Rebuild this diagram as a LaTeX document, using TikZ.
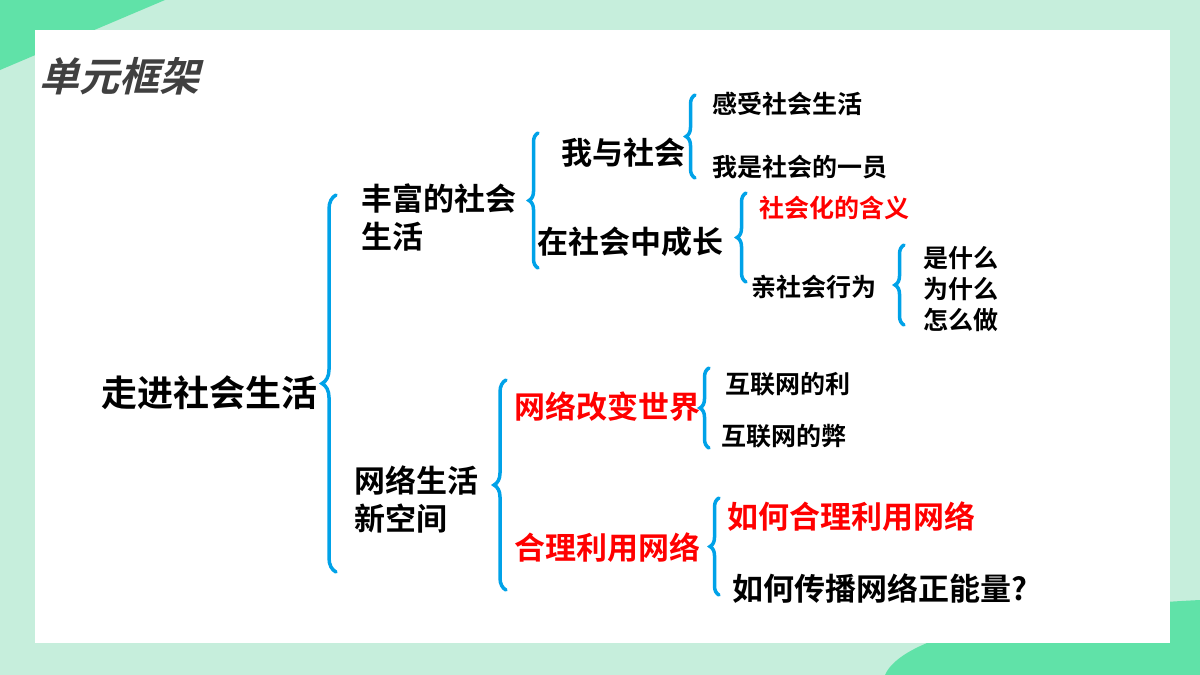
\documentclass[tikz,border=0pt]{standalone}
\usepackage{fontspec}
\newfontfamily\cjk{Noto Sans CJK SC}[BoldFont={* Bold}]
\usetikzlibrary{decorations.pathreplacing}
\definecolor{mint}{RGB}{198,238,220}
\definecolor{leaf}{RGB}{96,226,168}
\definecolor{bracecol}{RGB}{0,162,232}
\tikzset{
  lvlA/.style={anchor=west,align=left,inner sep=1pt,font=\cjk\bfseries\fontsize{36}{40}\selectfont},
  lvlB/.style={anchor=west,align=left,inner sep=1pt,font=\cjk\bfseries\fontsize{31}{38}\selectfont},
  lvlC/.style={anchor=west,align=left,inner sep=1pt,font=\cjk\bfseries\fontsize{25}{31}\selectfont},
  hot/.style={text=red},
  curly/.style={draw=bracecol,line width=3.5pt,line cap=round,decorate,decoration={brace,amplitude=9pt}}
}
\begin{document}
\begin{tikzpicture}[x=1pt,y=-1pt]
\useasboundingbox (0,0) rectangle (1200,675);
\fill[mint] (0,0) rectangle (1200,675);
\fill[leaf] (0,0) -- (165,0) -- (0,70) -- cycle;
\fill[leaf] (885,675) .. controls (900,640) and (1000,610) .. (1200,600) -- (1200,675) -- cycle;
\fill[white] (35,30) rectangle (1170,643);
\node[anchor=west,inner sep=1pt,font=\cjk\bfseries\fontsize{40}{44}\selectfont,text=black!75,xslant=0.25] (title) at (42,76) {单元框架};
% level one
\node[lvlA] (root) at (100,393) {走进社会生活};
\node[lvlB] (rich) at (360,217) {丰富的社会\\生活};
\node[lvlB] (net) at (353,499) {网络生活\\新空间};
% level two
\node[lvlB] (me) at (560,153) {我与社会};
\node[lvlB] (grow) at (536,242) {在社会中成长};
\node[lvlB,hot] (change) at (513,407) {网络改变世界};
\node[lvlB,hot] (use) at (513,548) {合理利用网络};
% level three
\node[lvlC] (feel) at (711,104) {感受社会生活};
\node[lvlC] (one) at (711,167) {我是社会的一员};
\node[lvlC,hot] (mean) at (758,208) {社会化的含义};
\node[lvlC] (pro) at (750,287) {亲社会行为};
\node[lvlC] (what) at (922,289) {是什么\\为什么\\怎么做};
\node[lvlC] (good) at (724,384) {互联网的利};
\node[lvlC] (bad) at (720,436) {互联网的弊};
\node[lvlB,hot] (how) at (726,517) {如何合理利用网络};
\node[lvlB] (spread) at (731,589) {如何传播网络正能量?};
% braces
\draw[curly,decoration={amplitude=14pt}] (336,572) -- (336,195);
\draw[curly] (538,268) -- (538,133);
\draw[curly] (695,178) -- (695,95);
\draw[curly] (746,282) -- (746,193);
\draw[curly] (904,325) -- (904,245);
\draw[curly,decoration={amplitude=12pt}] (506,590) -- (506,380);
\draw[curly] (709,448) -- (709,368);
\draw[curly] (719,595) -- (719,498);
\end{tikzpicture}
\end{document}
